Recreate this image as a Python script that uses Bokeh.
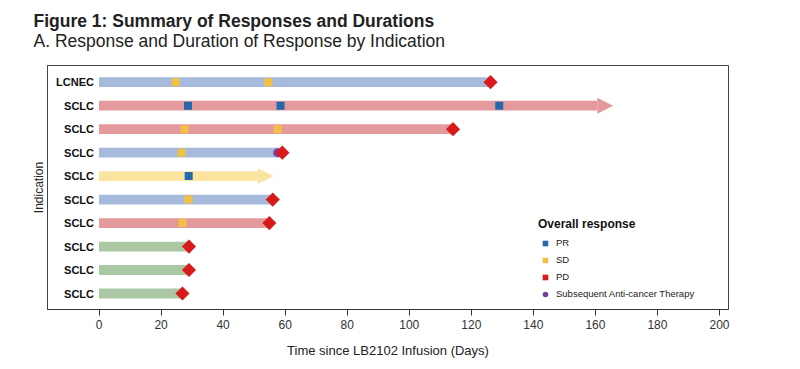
import math
from bokeh.plotting import figure
from bokeh.models import (Title, Legend, LegendItem, ColumnDataSource, Range1d,
                          FixedTicker)
from bokeh.core.properties import value
from bokeh.embed import file_html
from bokeh.resources import INLINE

# ---------------- data ----------------
indications = ["LCNEC", "SCLC", "SCLC", "SCLC", "SCLC", "SCLC", "SCLC", "SCLC", "SCLC", "SCLC"]
durations = [126.2, 165.7, 114.1, 59.1, 56.3, 56.0, 54.9, 29.0, 29.0, 26.9]
ongoing = [False, True, False, False, True, False, False, False, False, False]
bar_colors = ["#a6bbdb", "#e49a9d", "#e49a9d", "#a6bbdb", "#fbe3a0",
              "#a6bbdb", "#e49a9d", "#aac8a3", "#aac8a3", "#aac8a3"]

pr_rows = [2, 2, 2, 5]
pr_days = [28.7, 58.5, 129.0, 28.9]
sd_rows = [1, 1, 3, 3, 4, 6, 7]
sd_days = [24.7, 54.6, 27.6, 57.6, 26.6, 28.8, 26.9]
pd_rows = [1, 3, 4, 6, 7, 8, 9, 10]
pd_days = [126.2, 114.1, 59.1, 56.0, 54.9, 29.0, 29.0, 26.9]
sat_rows = [4]
sat_days = [57.6]

x_ticks = [0, 20, 40, 60, 80, 100, 120, 140, 160, 180, 200]

FONT = "Liberation Sans"

# ---------------- geometry helpers ----------------
n = len(indications)
def ypos(r):  # row number (1 = top) to y coordinate
    return n + 1 - r

row_y = [ypos(i + 1) for i in range(n)]
HEAD_LEN = 5.1     # days
BAR_H = 0.42
HEAD_H = 0.68

bar_right = [d - HEAD_LEN if o else d for d, o in zip(durations, ongoing)]

p = figure(width=784, height=364, output_backend="svg", toolbar_location=None,
           x_range=Range1d(-16.6, 202.9), y_range=Range1d(0.32, 10.71),
           min_border_left=47, min_border_right=56, min_border_top=65,
           min_border_bottom=55, title=None, background_fill_color="white")

sub = Title(text="A. Response and Duration of Response by Indication",
            text_font=FONT, text_font_size="17.5px",
            text_font_style="normal", text_color="#222222", offset=-14,
            standoff=29.5)
main = Title(text="Figure 1:  Summary of Responses and Durations",
             text_font=FONT, text_font_size="17.5px",
             text_font_style="bold", text_color="#222222", offset=-14,
             standoff=-34.5)
p.add_layout(sub, "above")
p.add_layout(main, "above")

p.xgrid.visible = False
p.ygrid.visible = False
p.outline_line_color = "#444444"
p.outline_line_width = 1

# bars
src = ColumnDataSource(dict(y=row_y, right=bar_right, color=bar_colors))
p.hbar(y="y", left=0, right="right", height=BAR_H, fill_color="color",
       line_color=None, source=src)

# arrow heads for ongoing
hx, hy, hc = [], [], []
for d, o, y, c in zip(durations, ongoing, row_y, bar_colors):
    if o:
        hx.append([d - HEAD_LEN, d, d - HEAD_LEN])
        hy.append([y - HEAD_H / 2, y, y + HEAD_H / 2])
        hc.append(c)
p.patches(xs=hx, ys=hy, fill_color=hc, line_color=None)

# category labels inside frame
lab = ColumnDataSource(dict(x=[0] * n, y=row_y, t=indications))
p.text(x="x", y="y", text="t", source=lab, x_offset=-5, text_align="right",
       text_baseline="middle", text_font=value(FONT),
       text_font_style="bold", text_font_size="11px", text_color="#111111")

# markers
r_pr = p.scatter(x=pr_days, y=[ypos(r) for r in pr_rows], marker="square",
                 size=8, fill_color="#2467ad", line_color=None)
r_sd = p.scatter(x=sd_days, y=[ypos(r) for r in sd_rows], marker="square",
                 size=8, fill_color="#f2c043", line_color=None)
r_sat = p.scatter(x=sat_days, y=[ypos(r) for r in sat_rows], marker="circle",
                  size=9, fill_color="#7a3e9d", line_color=None)
r_pd = p.scatter(x=pd_days, y=[ypos(r) for r in pd_rows], marker="square",
                 angle=math.pi / 4, size=10, fill_color="#d91a1a", line_color=None)

legend = Legend(items=[LegendItem(label="PR", renderers=[r_pr]),
                       LegendItem(label="SD", renderers=[r_sd]),
                       LegendItem(label="PD", renderers=[r_pd]),
                       LegendItem(label="Subsequent Anti-cancer Therapy", renderers=[r_sat])],
                location=(491, 8), title="Overall response",
                title_text_font=FONT,
                title_text_font_style="bold", title_text_font_size="12px",
                title_text_color="#111111", title_standoff=4,
                label_text_font=FONT,
                label_text_font_size="9.5px", label_text_color="#222222",
                glyph_width=14, glyph_height=14, spacing=2, padding=6,
                label_standoff=4, label_height=15,
                border_line_color=None, background_fill_alpha=0)
p.add_layout(legend, "center")

# axes
p.xaxis.ticker = FixedTicker(ticks=x_ticks)
p.xaxis.axis_label = "Time since LB2102 Infusion (Days)"
p.xaxis.axis_label_text_font = FONT
p.xaxis.axis_label_text_font_style = "normal"
p.xaxis.axis_label_text_font_size = "13px"
p.xaxis.axis_label_text_color = "#222222"
p.xaxis.axis_label_standoff = 11
p.xaxis.major_label_text_font = FONT
p.xaxis.major_label_text_font_size = "12px"
p.xaxis.major_label_text_color = "#333333"
p.xaxis.major_label_standoff = 4
p.xaxis.minor_tick_line_color = None
p.xaxis.major_tick_in = 0
p.xaxis.major_tick_out = 6
p.xaxis.major_tick_line_color = "#333333"
p.xaxis.axis_line_color = "#333333"

p.yaxis.axis_label = "Indication"
p.yaxis.axis_label_text_font = FONT
p.yaxis.axis_label_text_font_style = "normal"
p.yaxis.axis_label_text_font_size = "12px"
p.yaxis.axis_label_text_color = "#222222"
p.yaxis.axis_label_standoff = 2
p.yaxis.major_label_text_font_size = "0px"
p.yaxis.major_tick_line_color = None
p.yaxis.minor_tick_line_color = None
p.yaxis.axis_line_color = "#444444"
p.yaxis.ticker = FixedTicker(ticks=[])

open("out.html", "w").write(file_html(p, INLINE))
